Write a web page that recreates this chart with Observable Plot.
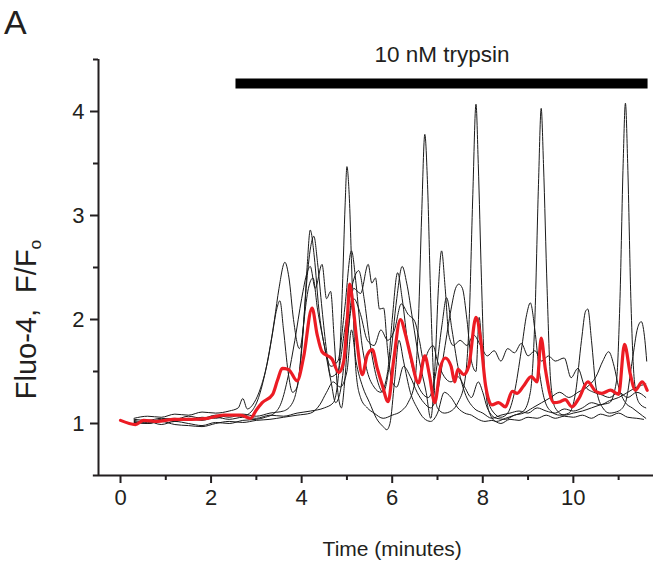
<!DOCTYPE html>
<html>
<head>
<meta charset="utf-8">
<script src="https://cdn.jsdelivr.net/npm/d3@7"></script>
<script src="https://cdn.jsdelivr.net/npm/@observablehq/plot@0.6"></script>
<style>
  html, body { margin: 0; padding: 0; background: #fff; }
  #chart svg { display: block; }
</style>
</head>
<body>
<div id="chart"></div>
<script>
// ---- data (time in minutes, Fluo-4 F/Fo) ----
const xMajorTicks = [0, 2, 4, 6, 8, 10];
const xMinorTicks = [1, 3, 5, 7, 9, 11];
const yMajorTicks = [1, 2, 3, 4];
const yMinorTicks = [1.5, 2.5, 3.5, 4.5];
const trypsinPeriod = [2.55, 11.65];
const trypsinLabel = "10 nM trypsin";

const cell1 = [[0.3,1.03],[0.6,1.01],[0.9,1.04],[1.2,1.02],[1.5,1.05],[1.8,1.03],[2.1,1.06],[2.4,1.04],[2.7,1.06],[3.0,1.05],[3.3,1.08],[3.6,1.07],[3.9,1.10],[4.2,1.12],[4.5,1.15],[4.7,1.2],[4.82,1.5],[4.9,2.3],[4.96,3.1],[5.0,3.47],[5.05,3.2],[5.12,2.3],[5.2,1.5],[5.3,1.25],[5.45,1.15],[5.6,1.1],[5.8,1.05],[6.0,1.08],[6.2,1.12],[6.35,1.2],[6.5,1.4],[6.58,2.0],[6.65,3.0],[6.72,3.78],[6.78,3.3],[6.85,2.2],[6.92,1.4],[7.0,1.15],[7.15,1.1],[7.3,1.12],[7.45,1.2],[7.6,1.4],[7.7,2.0],[7.78,3.2],[7.85,4.07],[7.9,3.5],[7.97,2.4],[8.05,1.4],[8.15,1.1],[8.3,1.02],[8.5,1.05],[8.7,1.08],[8.9,1.12],[9.05,1.3],[9.15,2.0],[9.23,3.3],[9.29,4.03],[9.34,3.5],[9.42,2.3],[9.5,1.4],[9.6,1.15],[9.8,1.08],[10.0,1.1],[10.2,1.12],[10.4,1.15],[10.6,1.18],[10.8,1.2],[10.95,1.4],[11.03,2.2],[11.1,3.5],[11.15,4.08],[11.2,3.5],[11.27,2.2],[11.35,1.4],[11.45,1.2],[11.6,1.15]];

const cell2 = [[0.3,1.05],[0.6,1.07],[0.9,1.06],[1.2,1.09],[1.5,1.08],[1.8,1.11],[2.1,1.10],[2.4,1.12],[2.6,1.15],[2.7,1.24],[2.8,1.14],[2.95,1.2],[3.1,1.35],[3.25,1.6],[3.4,2.0],[3.5,2.3],[3.63,2.55],[3.72,2.4],[3.82,2.0],[3.95,1.72],[4.05,2.0],[4.12,2.5],[4.19,2.86],[4.28,2.6],[4.38,2.1],[4.5,1.75],[4.65,1.55],[4.8,1.6],[4.95,2.1],[5.1,2.66],[5.2,2.35],[5.32,1.8],[5.45,1.5],[5.6,1.35],[5.75,1.3],[5.9,1.5],[6.0,2.0],[6.12,2.45],[6.22,2.2],[6.35,1.75],[6.5,1.45],[6.65,1.3],[6.8,1.25],[6.95,1.45],[7.1,1.95],[7.2,2.21],[7.32,1.9],[7.45,1.55],[7.6,1.3],[7.8,1.15],[8.0,1.1],[8.2,1.05],[8.4,1.08],[8.6,1.1],[8.8,1.12],[9.0,1.1],[9.2,1.15],[9.4,1.12],[9.6,1.1],[9.8,1.14],[10.0,1.12],[10.2,1.15],[10.4,1.2],[10.6,1.18],[10.8,1.22],[11.0,1.25],[11.2,1.3],[11.4,1.35],[11.6,1.38]];

const cell3 = [[0.3,1.02],[0.6,1.0],[0.9,1.03],[1.2,1.05],[1.5,1.03],[1.8,1.06],[2.1,1.05],[2.4,1.08],[2.7,1.07],[2.9,1.12],[3.05,1.25],[3.2,1.5],[3.35,1.85],[3.45,2.1],[3.52,2.18],[3.6,1.9],[3.7,1.5],[3.8,1.3],[3.9,1.35],[4.0,1.7],[4.1,2.3],[4.2,2.7],[4.27,2.80],[4.35,2.55],[4.45,2.1],[4.55,1.7],[4.65,1.45],[4.8,1.5],[4.95,1.9],[5.1,2.3],[5.26,2.47],[5.38,2.2],[5.5,1.8],[5.65,1.45],[5.8,1.3],[5.95,1.6],[6.1,2.2],[6.22,2.51],[6.32,2.35],[6.45,2.0],[6.6,1.6],[6.75,1.3],[6.85,1.05],[6.95,1.6],[7.02,2.3],[7.09,2.66],[7.17,2.3],[7.25,1.85],[7.35,1.75],[7.5,1.8],[7.65,1.75],[7.8,1.85],[7.95,1.75],[8.1,1.65],[8.25,1.7],[8.4,1.6],[8.55,1.72],[8.7,1.68],[8.85,1.77],[9.0,1.65],[9.15,1.7],[9.3,1.6],[9.45,1.65],[9.6,1.6],[9.8,1.63],[9.95,1.44],[10.1,1.53],[10.25,1.36],[10.45,1.3],[10.6,1.28],[10.8,1.25],[11.0,1.3],[11.2,1.25],[11.4,1.3],[11.6,1.25]];

const cell4 = [[0.3,1.0],[0.6,1.02],[0.9,0.99],[1.2,1.02],[1.5,1.0],[1.8,0.98],[2.1,1.01],[2.4,1.0],[2.7,1.03],[3.0,1.04],[3.2,1.06],[3.4,1.1],[3.55,1.2],[3.7,1.45],[3.85,1.8],[4.0,2.2],[4.12,2.45],[4.19,2.51],[4.3,2.3],[4.45,2.53],[4.55,2.2],[4.64,2.27],[4.72,1.8],[4.8,1.3],[4.88,1.15],[4.95,1.4],[5.05,2.0],[5.15,2.3],[5.3,2.25],[5.47,2.53],[5.55,2.35],[5.63,2.40],[5.72,2.1],[5.81,2.11],[5.9,1.7],[6.0,1.4],[6.1,1.35],[6.25,1.55],[6.4,1.45],[6.55,1.3],[6.7,1.2],[6.85,1.15],[7.0,1.3],[7.15,1.7],[7.3,2.1],[7.4,2.3],[7.47,2.34],[7.55,2.3],[7.65,2.0],[7.75,1.6],[7.85,1.5],[7.92,2.02],[8.0,1.6],[8.1,1.25],[8.25,1.1],[8.4,1.06],[8.55,1.1],[8.7,1.3],[8.85,1.7],[8.97,2.05],[9.05,2.16],[9.15,1.9],[9.25,1.5],[9.35,1.25],[9.5,1.12],[9.7,1.08],[9.9,1.1],[10.05,1.3],[10.18,1.8],[10.27,2.08],[10.32,2.10],[10.4,1.8],[10.5,1.35],[10.65,1.15],[10.8,1.1],[11.0,1.12],[11.15,1.2],[11.3,1.6],[11.42,1.92],[11.5,1.98],[11.58,1.8],[11.62,1.6]];

const cell5 = [[0.3,1.04],[0.6,1.03],[0.9,1.05],[1.2,1.04],[1.5,1.07],[1.8,1.05],[2.1,1.08],[2.4,1.06],[2.7,1.09],[3.0,1.07],[3.3,1.1],[3.6,1.12],[3.8,1.2],[3.95,1.5],[4.05,1.98],[4.15,2.3],[4.25,2.4],[4.35,2.1],[4.5,1.75],[4.65,1.4],[4.75,1.2],[4.85,1.3],[5.0,1.8],[5.15,2.2],[5.3,2.05],[5.45,1.8],[5.6,1.75],[5.75,1.9],[5.9,1.8],[6.05,1.9],[6.2,2.15],[6.35,2.05],[6.5,1.98],[6.6,1.8],[6.7,1.6],[6.8,1.7],[6.9,1.75],[7.0,1.6],[7.15,1.45],[7.3,1.4],[7.45,1.45],[7.6,1.35],[7.75,1.25],[7.9,1.4],[8.0,1.3],[8.1,1.15],[8.3,1.05],[8.5,1.04],[8.7,1.08],[8.9,1.1],[9.1,1.15],[9.3,1.2],[9.5,1.25],[9.7,1.3],[9.9,1.25],[10.1,1.3],[10.3,1.35],[10.5,1.45],[10.65,1.6],[10.78,1.69],[10.9,1.55],[11.0,1.35],[11.15,1.2],[11.3,1.15],[11.45,1.1],[11.6,1.05]];

const cell6 = [[0.3,1.01],[0.6,1.0],[0.9,1.02],[1.2,0.99],[1.5,0.98],[1.8,0.97],[2.1,1.0],[2.4,1.02],[2.7,1.01],[3.0,1.03],[3.3,1.04],[3.6,1.06],[3.9,1.08],[4.2,1.1],[4.4,1.18],[4.55,1.3],[4.7,1.4],[4.85,1.35],[5.0,1.5],[5.1,1.9],[5.2,1.6],[5.35,1.35],[5.5,1.2],[5.65,1.05],[5.8,0.97],[5.88,0.94],[5.95,1.0],[6.05,1.4],[6.15,1.8],[6.25,1.6],[6.4,1.3],[6.55,1.15],[6.7,1.05],[6.85,1.02],[7.0,1.1],[7.15,1.3],[7.3,1.25],[7.45,1.15],[7.6,1.1],[7.75,1.08],[7.9,1.04],[8.05,1.02],[8.2,1.03],[8.4,1.0],[8.6,1.04],[8.8,1.03],[9.0,1.06],[9.2,1.05],[9.4,1.08],[9.6,1.05],[9.8,1.07],[10.0,1.06],[10.2,1.08],[10.4,1.05],[10.6,1.09],[10.8,1.07],[11.0,1.1],[11.2,1.06],[11.4,1.05],[11.55,1.04]];

const meanTrace = [[0.0,1.03],[0.33,0.99],[0.51,1.03],[0.82,1.02],[1.17,1.04],[1.55,1.04],[1.92,1.05],[2.27,1.08],[2.65,1.08],[2.87,1.05],[3.0,1.13],[3.13,1.2],[3.36,1.28],[3.47,1.42],[3.57,1.53],[3.71,1.52],[3.9,1.41],[4.04,1.63],[4.23,2.11],[4.34,1.86],[4.45,1.69],[4.67,1.62],[4.82,1.49],[4.93,1.6],[5.01,2.02],[5.06,2.34],[5.14,2.11],[5.22,1.79],[5.34,1.47],[5.45,1.66],[5.56,1.71],[5.67,1.53],[5.78,1.37],[5.91,1.21],[6.03,1.6],[6.18,2.0],[6.29,1.86],[6.4,1.66],[6.58,1.39],[6.72,1.65],[6.82,1.47],[6.94,1.2],[7.06,1.53],[7.17,1.63],[7.3,1.55],[7.38,1.4],[7.45,1.52],[7.58,1.47],[7.69,1.55],[7.85,2.02],[7.95,1.82],[8.06,1.37],[8.2,1.18],[8.35,1.2],[8.5,1.16],[8.65,1.31],[8.76,1.29],[8.9,1.36],[9.07,1.45],[9.2,1.4],[9.29,1.82],[9.38,1.53],[9.57,1.2],[9.71,1.21],[9.82,1.23],[9.97,1.16],[10.12,1.24],[10.32,1.4],[10.49,1.31],[10.63,1.29],[10.82,1.32],[11.0,1.28],[11.13,1.76],[11.26,1.47],[11.37,1.32],[11.52,1.4],[11.63,1.32]];

const cells = [cell1, cell2, cell3, cell4, cell5, cell6];

// ---- chart ----
const font = "'Liberation Sans', Arial, Helvetica, sans-serif";
const ink = "#231f20";
const X = d => d[0], Y = d => d[1];
const yTitle = "Fluo-4,  F/F";

const chart = Plot.plot({
  width: 653,
  height: 562,
  marginLeft: 98,
  marginRight: 0,
  marginTop: 59,
  marginBottom: 87,
  style: { fontFamily: font, background: "#fff", color: ink },
  x: { domain: [-0.486, 11.77] },
  y: { domain: [0.5, 4.5] },
  marks: [
    // axis lines
    Plot.ruleY([0.5], { x1: -0.6, x2: 11.77, stroke: ink, strokeWidth: 2 }),
    Plot.ruleX([-0.486], { y1: 0.5, y2: 4.5, stroke: ink, strokeWidth: 2 }),
    // ticks
    Plot.axisX({ ticks: xMajorTicks, tickSize: 8, tickPadding: 6, fontSize: 22, tickFormat: d => String(d), strokeWidth: 2, label: null, stroke: ink }),
    Plot.axisX({ ticks: xMinorTicks, tickSize: 5, tickFormat: () => "", strokeWidth: 2, label: null, stroke: ink }),
    Plot.axisY({ ticks: yMajorTicks, tickSize: 8, tickPadding: 6, fontSize: 22, tickFormat: d => String(d), strokeWidth: 2, label: null, stroke: ink }),
    Plot.axisY({ ticks: yMinorTicks, tickSize: 5, tickFormat: () => "", strokeWidth: 2, label: null, stroke: ink }),
    // axis titles
    Plot.text(["Time (minutes)"], { x: 6, frameAnchor: "bottom", dy: 80, lineAnchor: "bottom", fontSize: 21, fill: ink }),
    Plot.text([yTitle], { y: 2.0, frameAnchor: "left", dx: -72, rotate: -90, textAnchor: "middle", lineAnchor: "middle", fontSize: 29, fill: ink }),
    // trypsin bar
    Plot.ruleY([4.27], { x1: trypsinPeriod[0], x2: trypsinPeriod[1], stroke: "#000", strokeWidth: 10 }),
    Plot.text([trypsinLabel], { x: (trypsinPeriod[0] + trypsinPeriod[1]) / 2, y: 4.27, dy: -29, fontSize: 22.5, fill: ink }),
    // individual cells
    ...cells.map(c => Plot.line(c, { x: X, y: Y, stroke: "#1a1a1a", strokeWidth: 1, curve: "monotone-x" })),
    // mean
    Plot.line(meanTrace, { x: X, y: Y, stroke: "#ec1c24", strokeWidth: 3.2, curve: "monotone-x" })
  ]
});

const svg = d3.select(chart);
// subscript "o" on the y title, keep the double space
svg.selectAll("text").filter(function () { return this.textContent === yTitle; })
  .style("white-space", "pre")
  .append("tspan").attr("dy", "0.3em").attr("font-size", "0.6em").text("o");
// panel letter
svg.append("text").attr("x", 4).attr("y", 34).attr("font-size", 34)
  .attr("text-anchor", "start")
  .attr("font-family", font).attr("fill", ink).text("A");

document.getElementById("chart").appendChild(chart);
</script>
</body>
</html>
